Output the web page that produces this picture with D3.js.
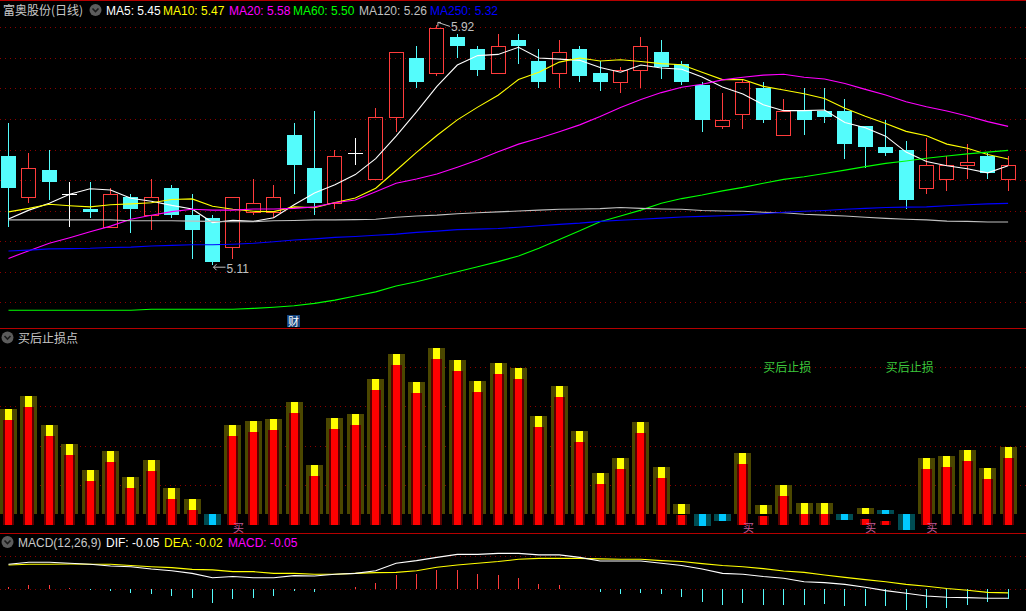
<!DOCTYPE html>
<html><head><meta charset="utf-8">
<script src="https://cdn.jsdelivr.net/npm/d3@7"></script>
<style>
html,body{margin:0;padding:0;background:#000;overflow:hidden}
svg{display:block}
text{font-family:"Liberation Sans","Noto Sans CJK SC",sans-serif;font-size:12px}
.cjk{font-family:"Noto Sans CJK SC","Liberation Sans",sans-serif}
</style></head><body>
<svg id="c" width="1026" height="611"></svg>
<script>
// ---------- data ----------
const stockName = "富奥股份(日线)";
const openP  = [5.48,5.34,5.43,5.35,5.30,5.24,5.34,5.28,5.37,5.28,5.27,5.17,5.29,5.29,5.55,5.44,5.32,5.49,5.40,5.61,5.81,5.76,5.88,5.84,5.76,5.87,5.80,5.76,5.84,5.76,5.73,5.77,5.83,5.79,5.72,5.58,5.62,5.71,5.55,5.63,5.63,5.63,5.58,5.51,5.50,5.37,5.40,5.45,5.48,5.40];
const highP  = [5.59,5.49,5.50,5.39,5.39,5.37,5.35,5.40,5.38,5.35,5.28,5.34,5.40,5.38,5.59,5.63,5.50,5.54,5.64,5.83,5.85,5.92,5.89,5.85,5.89,5.89,5.84,5.87,5.85,5.80,5.78,5.88,5.87,5.80,5.73,5.69,5.74,5.73,5.67,5.71,5.71,5.67,5.58,5.60,5.53,5.54,5.48,5.52,5.49,5.48];
const lowP   = [5.24,5.32,5.33,5.24,5.27,5.24,5.22,5.23,5.27,5.13,5.11,5.13,5.28,5.27,5.35,5.28,5.30,5.45,5.40,5.56,5.71,5.75,5.81,5.75,5.76,5.79,5.71,5.71,5.73,5.70,5.69,5.71,5.74,5.72,5.56,5.57,5.57,5.59,5.55,5.55,5.59,5.47,5.44,5.48,5.30,5.35,5.36,5.40,5.40,5.36];
const closeP = [5.37,5.44,5.39,5.35,5.29,5.35,5.30,5.34,5.28,5.23,5.12,5.34,5.32,5.34,5.45,5.32,5.48,5.49,5.61,5.83,5.73,5.91,5.85,5.77,5.85,5.85,5.73,5.83,5.75,5.73,5.77,5.85,5.78,5.73,5.60,5.60,5.73,5.60,5.63,5.60,5.61,5.52,5.51,5.49,5.33,5.45,5.45,5.46,5.42,5.45];

const ma5   = [5.266,5.296,5.319,5.350,5.368,5.364,5.336,5.326,5.312,5.300,5.254,5.262,5.258,5.270,5.314,5.354,5.382,5.416,5.470,5.546,5.628,5.714,5.786,5.818,5.822,5.846,5.810,5.806,5.802,5.778,5.762,5.786,5.776,5.772,5.746,5.712,5.688,5.652,5.632,5.632,5.634,5.592,5.574,5.546,5.492,5.460,5.446,5.436,5.422,5.446];
const ma10  = [5.290,5.302,5.316,5.311,5.307,5.314,5.317,5.321,5.332,5.334,5.309,5.299,5.292,5.291,5.307,5.304,5.322,5.337,5.370,5.430,5.491,5.548,5.601,5.644,5.684,5.737,5.762,5.796,5.810,5.800,5.804,5.798,5.791,5.787,5.762,5.737,5.737,5.714,5.702,5.689,5.673,5.640,5.613,5.589,5.562,5.547,5.519,5.505,5.484,5.469];
const ma20  = [5.133,5.159,5.184,5.203,5.223,5.242,5.265,5.279,5.291,5.299,5.296,5.296,5.300,5.300,5.302,5.307,5.321,5.330,5.358,5.387,5.401,5.418,5.441,5.465,5.493,5.519,5.539,5.561,5.584,5.612,5.643,5.670,5.693,5.711,5.721,5.736,5.745,5.752,5.755,5.745,5.739,5.724,5.704,5.685,5.662,5.645,5.631,5.614,5.595,5.579];
const ma60  = [4.958,4.958,4.958,4.958,4.958,4.958,4.958,4.961,4.961,4.961,4.961,4.961,4.964,4.968,4.973,4.981,4.992,5.006,5.020,5.040,5.054,5.071,5.088,5.105,5.122,5.141,5.167,5.197,5.226,5.257,5.276,5.296,5.319,5.335,5.347,5.361,5.373,5.387,5.400,5.409,5.420,5.431,5.443,5.454,5.462,5.471,5.479,5.486,5.492,5.498];
const ma120 = [5.263,5.263,5.263,5.263,5.263,5.263,5.260,5.260,5.260,5.259,5.258,5.257,5.257,5.260,5.261,5.263,5.263,5.264,5.265,5.272,5.276,5.279,5.284,5.287,5.290,5.293,5.296,5.299,5.300,5.301,5.305,5.302,5.300,5.299,5.295,5.293,5.292,5.289,5.287,5.282,5.279,5.276,5.272,5.268,5.265,5.263,5.259,5.258,5.256,5.256];
const ma250 = [5.158,5.161,5.165,5.166,5.167,5.170,5.171,5.175,5.177,5.179,5.179,5.181,5.184,5.189,5.195,5.199,5.204,5.207,5.211,5.215,5.221,5.225,5.230,5.232,5.234,5.238,5.243,5.248,5.252,5.258,5.262,5.265,5.269,5.273,5.275,5.277,5.280,5.284,5.289,5.292,5.295,5.299,5.302,5.305,5.306,5.307,5.311,5.314,5.317,5.319];

// 买后止损点 indicator
const stopVal  = [65.4,73.6,55.4,43.6,27.3,39.2,22.9,33.6,16.1,9.2,-6.9,55.4,57.9,59.2,69.8,30.4,59.8,62.3,84.2,99.8,82.3,103.6,96.1,82.9,94.2,91.1,61.1,79.8,51.7,25.4,34.8,57.3,29.2,6.1,-7.5,-4.4,37.9,5.4,17.9,6.7,6.7,-3.8,3.6,2.3,-10.0,34.8,36.1,39.8,28.6,41.7];
const stopWeak = [0,0,0,0,0,0,0,0,0,0,1,0,0,0,0,0,0,0,0,0,0,0,0,0,0,0,0,0,0,0,0,0,0,0,1,1,0,0,0,0,0,1,0,1,1,0,0,0,0,0];
const buyIdx   = [11,36,42,45];
const stopTextIdx = [37,43];

// MACD
const dif  = [0.132,0.142,0.142,0.137,0.132,0.123,0.119,0.107,0.098,0.084,0.061,0.067,0.061,0.061,0.072,0.070,0.079,0.084,0.098,0.137,0.151,0.168,0.184,0.184,0.189,0.189,0.181,0.181,0.168,0.149,0.149,0.149,0.137,0.125,0.107,0.084,0.079,0.067,0.058,0.040,0.035,0.026,0.011,-0.007,-0.021,-0.035,-0.042,-0.044,-0.047,-0.047];
const dea  = [0.128,0.132,0.132,0.133,0.132,0.132,0.125,0.119,0.114,0.105,0.102,0.093,0.093,0.084,0.084,0.079,0.079,0.084,0.088,0.089,0.098,0.116,0.128,0.137,0.146,0.158,0.163,0.163,0.163,0.160,0.158,0.158,0.151,0.146,0.135,0.125,0.119,0.109,0.096,0.089,0.075,0.063,0.051,0.040,0.026,0.016,0.004,-0.005,-0.016,-0.019];
const macd = [0.011,0.023,0.023,0.005,-0.005,-0.009,-0.018,-0.025,-0.035,-0.046,-0.070,-0.051,-0.046,-0.035,-0.009,-0.014,0,0.011,0.035,0.075,0.082,0.102,0.102,0.082,0.075,0.061,0.028,0.023,0,-0.014,-0.025,-0.019,-0.025,-0.039,-0.065,-0.082,-0.070,-0.082,-0.082,-0.082,-0.075,-0.088,-0.088,-0.088,-0.109,-0.096,-0.100,-0.084,-0.065,-0.051];

// ---------- drawing ----------
const W = 1026, H = 611, N = closeP.length;
const svg = d3.select('#c');
svg.append('rect').attr('width', W).attr('height', H).attr('fill', '#000');

const x  = d3.scaleLinear().domain([0, N - 1]).range([8.5, 1008.1]);
const yP = d3.scaleLinear().domain([5.11, 5.92]).range([265.2, 25.4]);
const yS = d3.scaleLinear().domain([0, 100]).range([513.7, 353.7]);
const yM = d3.scaleLinear().domain([0, 0.1]).range([589.3, 570.3]);
const cx = i => Math.floor(x(i));
const R = v => Math.round(v);

const gridCol = '#8c0000';
function hDot(y) {
  svg.append('line').attr('x1', 0).attr('x2', W).attr('y1', y).attr('y2', y)
    .attr('stroke', gridCol).attr('stroke-width', 1).attr('stroke-dasharray', '1,4');
}
d3.range(10).forEach(k => hDot(R(27.3 + k * 30.55) + 0.5));
[367, 406, 446, 485].forEach(y => hDot(y + 0.5));
[556, R(yM(0))].forEach(y => hDot(y + 0.5));

// panel separators
[0.5, 328.5, 533.5].forEach(y => svg.append('line').attr('x1', 0).attr('x2', W)
  .attr('y1', y).attr('y2', y).attr('stroke', '#b40000').attr('stroke-width', 1));

// ---- candles ----
const UP = '#ff3c3c', DN = '#54fcfc';
const gC = svg.append('g').attr('shape-rendering', 'crispEdges');
d3.range(N).forEach(i => {
  const o = openP[i], c = closeP[i], h = highP[i], l = lowP[i];
  const X = cx(i);
  const top = R(yP(Math.max(o, c))), bot = R(yP(Math.min(o, c)));
  const yh = R(yP(h)), yl = R(yP(l));
  if (c > o) {
    gC.append('line').attr('x1', X + 0.5).attr('x2', X + 0.5).attr('y1', yh).attr('y2', top).attr('stroke', UP);
    gC.append('line').attr('x1', X + 0.5).attr('x2', X + 0.5).attr('y1', bot).attr('y2', yl).attr('stroke', UP);
    gC.append('rect').attr('x', X - 6.5).attr('y', top + 0.5).attr('width', 14).attr('height', Math.max(1, bot - top))
      .attr('fill', 'none').attr('stroke', UP).attr('stroke-width', 1);
  } else if (c < o) {
    gC.append('line').attr('x1', X + 0.5).attr('x2', X + 0.5).attr('y1', yh).attr('y2', yl).attr('stroke', DN);
    gC.append('rect').attr('x', X - 7).attr('y', top).attr('width', 15).attr('height', Math.max(1, bot - top)).attr('fill', DN);
  } else {
    gC.append('line').attr('x1', X + 0.5).attr('x2', X + 0.5).attr('y1', yh).attr('y2', yl).attr('stroke', '#fff');
    gC.append('line').attr('x1', X - 7).attr('x2', X + 8).attr('y1', top + 0.5).attr('y2', top + 0.5).attr('stroke', '#fff');
  }
});

// ---- moving averages ----
const maSeries = [
  {name: 'MA5', data: ma5, color: '#ffffff', lx: 106},
  {name: 'MA10', data: ma10, color: '#ffff00', lx: 163},
  {name: 'MA20', data: ma20, color: '#ff00ff', lx: 229},
  {name: 'MA60', data: ma60, color: '#00ff00', lx: 293},
  {name: 'MA120', data: ma120, color: '#c0c0c0', lx: 359},
  {name: 'MA250', data: ma250, color: '#0000ff', lx: 430}
];
const lineP = d3.line().x((d, i) => x(i)).y(d => yP(d));
maSeries.forEach(s => {
  svg.append('path').attr('d', lineP(s.data)).attr('fill', 'none')
    .attr('stroke', s.color).attr('stroke-width', 1.1);
});

// high / low markers
const iHi = d3.maxIndex(highP), iLo = d3.minIndex(lowP);
const markCol = '#c0c0c0';
{
  const X = x(iHi), Y = yP(highP[iHi]);
  svg.append('path').attr('d', `M${X + 1},${Y - 3} L${X + 1},${Y + 1} M${X + 1},${Y - 3} L${X + 4},${Y - 3} M${X + 1},${Y - 3} L${X + 13},${Y + 1}`)
    .attr('stroke', markCol).attr('fill', 'none');
  svg.append('text').attr('x', X + 14).attr('y', Y + 6).attr('fill', markCol).text(highP[iHi].toFixed(2));
}
{
  const X = x(iLo), Y = yP(lowP[iLo]) + 2;
  svg.append('path').attr('d', `M${X + 1},${Y} L${X + 13},${Y} M${X + 1},${Y} L${X + 4},${Y - 3} M${X + 1},${Y} L${X + 4},${Y + 3}`)
    .attr('stroke', markCol).attr('fill', 'none');
  svg.append('text').attr('x', X + 14).attr('y', Y + 6).attr('fill', markCol).text(lowP[iLo].toFixed(2));
}

// 财 marker
{
  const X = cx(14);
  svg.append('rect').attr('x', X - 7).attr('y', 315).attr('width', 13).attr('height', 12).attr('fill', '#16457e');
  svg.append('text').attr('class', 'cjk').attr('x', X - 0.5).attr('y', 325.5).attr('text-anchor', 'middle')
    .attr('fill', '#ffffff').style('font-size', '11px').text('财');
}

// title icons
function icon(cxp, cyp) {
  svg.append('circle').attr('cx', cxp).attr('cy', cyp).attr('r', 6).attr('fill', '#5c5c5c');
  svg.append('path').attr('d', `M${cxp - 3},${cyp - 1.5} L${cxp},${cyp + 1.5} L${cxp + 3},${cyp - 1.5}`)
    .attr('stroke', '#1a1a1a').attr('stroke-width', 1.6).attr('fill', 'none');
}

// main title + legend
svg.append('text').attr('class', 'cjk').attr('x', 3).attr('y', 15).attr('fill', '#c8c8c8').text(stockName);
icon(95.5, 10);
maSeries.forEach(s => {
  svg.append('text').attr('x', s.lx).attr('y', 15).attr('fill', s.color)
    .text(`${s.name}: ${s.data[N - 1].toFixed(2)}`);
});

// ---- 买后止损点 panel ----
const gS = svg.append('g').attr('shape-rendering', 'crispEdges');
const base = R(yS(0));
const botY = 525;
d3.range(N).forEach(i => {
  const X = cx(i);
  const v = stopVal[i];
  const yv = R(yS(v));
  const weak = stopWeak[i] === 1;
  const topY = Math.min(yv, base), lowY = Math.max(yv, base);
  if (weak) {
    gS.append('rect').attr('x', X - 8).attr('y', topY).attr('width', 17).attr('height', Math.max(1, lowY - topY)).attr('fill', '#004c52');
    gS.append('rect').attr('x', X - 3).attr('y', topY).attr('width', 7).attr('height', Math.max(1, lowY - topY)).attr('fill', '#00c8ff');
  } else {
    gS.append('rect').attr('x', X - 8).attr('y', yv).attr('width', 17).attr('height', Math.max(1, base - yv)).attr('fill', '#4b4700');
  }
  const redTop = topY + 11;
  if (v > 0 && redTop < botY) {
    gS.append('rect').attr('x', X - 5).attr('y', redTop).attr('width', 11).attr('height', botY - redTop).attr('fill', '#5a0000');
    gS.append('rect').attr('x', X - 3).attr('y', redTop).attr('width', 7).attr('height', botY - redTop).attr('fill', '#ff0000');
  }
  if (!weak && v > 0) {
    gS.append('rect').attr('x', X - 3).attr('y', yv).attr('width', 7).attr('height', Math.min(11, base - yv)).attr('fill', '#ffff00');
  }
});
buyIdx.forEach(i => {
  svg.append('text').attr('class', 'cjk').attr('x', x(i)).attr('y', 532).attr('fill', '#c05a96')
    .style('font-size', '11px').text('买');
});
stopTextIdx.forEach(i => {
  svg.append('text').attr('class', 'cjk').attr('x', x(i)).attr('y', 372).attr('fill', '#3cc83c').text('买后止损');
});
icon(7.5, 337.5);
svg.append('text').attr('class', 'cjk').attr('x', 18).attr('y', 343).attr('fill', '#c8c8c8').text('买后止损点');

// ---- MACD panel ----
const gM = svg.append('g').attr('shape-rendering', 'crispEdges');
d3.range(N).forEach(i => {
  if (macd[i] === 0) return;
  gM.append('line').attr('x1', cx(i) + 0.5).attr('x2', cx(i) + 0.5)
    .attr('y1', yM(0)).attr('y2', yM(macd[i]))
    .attr('stroke', macd[i] > 0 ? '#ff3c3c' : '#54fcfc').attr('stroke-width', 1);
});
const lineM = d3.line().x((d, i) => x(i)).y(d => yM(d));
svg.append('path').attr('d', lineM(dea)).attr('fill', 'none').attr('stroke', '#ffff00').attr('stroke-width', 1.1);
svg.append('path').attr('d', lineM(dif)).attr('fill', 'none').attr('stroke', '#ffffff').attr('stroke-width', 1.1);

icon(7.5, 542);
const macdLegend = [
  {t: 'MACD(12,26,9)', c: '#c8c8c8', lx: 18},
  {t: `DIF: ${dif[N - 1].toFixed(2)}`, c: '#ffffff', lx: 106},
  {t: `DEA: ${dea[N - 1].toFixed(2)}`, c: '#ffff00', lx: 164},
  {t: `MACD: ${macd[N - 1].toFixed(2)}`, c: '#ff00ff', lx: 228}
];
macdLegend.forEach(m => svg.append('text').attr('x', m.lx).attr('y', 547).attr('fill', m.c).text(m.t));
</script>
</body></html>
